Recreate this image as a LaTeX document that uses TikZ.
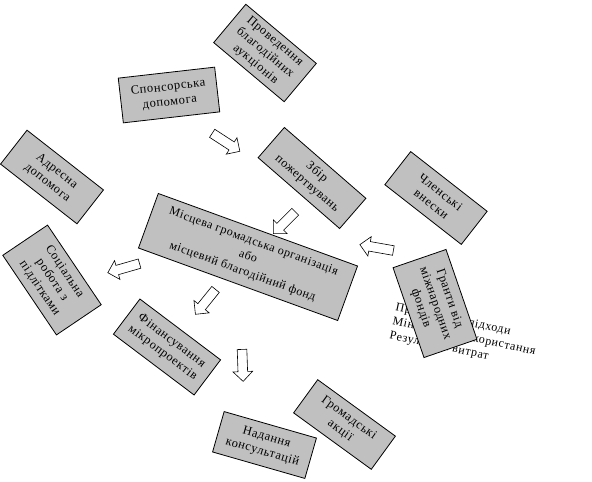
\documentclass[tikz,border=0pt]{standalone}
\usepackage{fontspec}
\setmainfont{Liberation Serif}[LetterSpace=5]
\usetikzlibrary{shapes.arrows}

\definecolor{BoxGrey}{RGB}{192,192,192}

\begin{document}
\begin{tikzpicture}[x=1pt,y=-1pt,
    card/.style={draw, fill=BoxGrey, line width=0.8pt, inner sep=0pt, align=center, font=\fontsize{12.5}{15}\selectfont},
    blockarrow/.style={single arrow, draw, fill=white, line width=0.6pt, inner xsep=0pt, inner ysep=4.5pt,
        minimum height=33pt, single arrow head extend=5pt}]
    \useasboundingbox (0,0) rectangle (592,482);

    % upper sources
    \node[card, minimum width=92pt, minimum height=50pt, rotate=-40] (auction) at (265,53) {Проведення\\благодійних\\аукціонів};
    \node[card, minimum width=97pt, minimum height=45pt, rotate=6.5] (sponsor) at (169,95) {Спонсорська\\допомога};
    \node[card, minimum width=108pt, minimum height=40pt, rotate=-41] (donations) at (312,178) {Збір\\пожертвувань};
    \node[card, minimum width=97pt, minimum height=42pt, rotate=-38] (fees) at (436,198) {Членські\\внески};

    % left side
    \node[card, minimum width=97pt, minimum height=43pt, rotate=-38] (address) at (52,177) {Адресна\\допомога};
    \node[card, minimum width=96pt, minimum height=54pt, rotate=-56] (social) at (52,280) {Соціальна\\робота з\\підлітками};

    % central organisation
    \node[card, minimum width=212pt, minimum height=58pt, rotate=-20, font=\fontsize{12}{16}\selectfont] (mainorg) at (248,257) {Місцева громадська організація\\або\\місцевий благодійний фонд};

    % text partly hidden behind the grants card
    \node[align=left, rotate=-12, inner sep=0pt, font=\fontsize{12}{14.5}\selectfont] (goals) at (464,337) {Прогресивні підходи\\Мінімальне використання\\Результати витрат};
    \node[card, minimum width=95pt, minimum height=56pt, rotate=-71] (grants) at (435,303.5) {Гранти від\\міжнародних\\фондів};

    % lower activities
    \node[card, minimum width=101pt, minimum height=44pt, rotate=-37] (microfund) at (167,347) {Фінансування\\мікропроектів};
    \node[card, minimum width=96pt, minimum height=42pt, rotate=-16] (consult) at (264.5,445) {Надання\\консультацій};
    \node[card, minimum width=96pt, minimum height=41pt, rotate=-36] (actions) at (344.5,424.5) {Громадські\\акції};

    % block arrows
    \node[blockarrow, rotate=-33] (arrsponsor) at (224,141) {};
    \node[blockarrow, rotate=-135, minimum height=31pt] (arrdonations) at (286,221) {};
    \node[blockarrow, rotate=170, minimum height=34pt] (arrgrants) at (379,248) {};
    \node[blockarrow, rotate=-164] (arrsocial) at (126,267.5) {};
    \node[blockarrow, rotate=-129, minimum height=32pt] (arrmicro) at (207,300) {};
    \node[blockarrow, rotate=-88, minimum height=32pt] (arrconsult) at (242.5,363) {};
\end{tikzpicture}
\end{document}
